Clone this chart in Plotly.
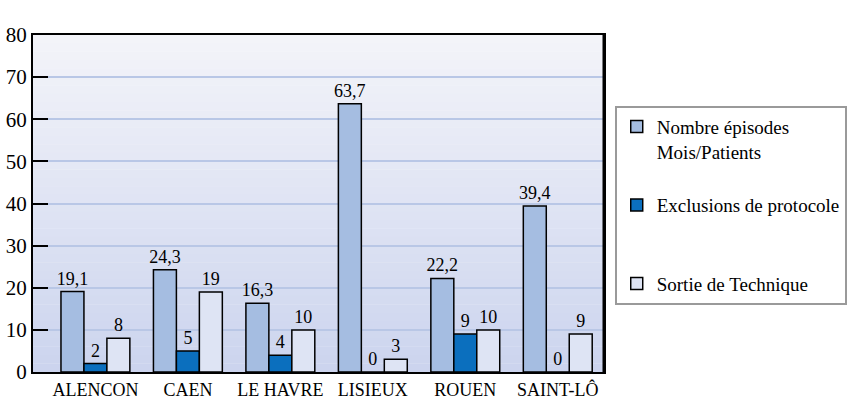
import plotly.graph_objects as go

categories = ["ALENCON", "CAEN", "LE HAVRE", "LISIEUX", "ROUEN", "SAINT-LÔ"]
episodes = [19.1, 24.3, 16.3, 63.7, 22.2, 39.4]
exclusions = [2, 5, 4, 0, 9, 0]
sorties = [8, 19, 10, 3, 10, 9]
series_names = ["Nombre épisodes<br>Mois/Patients", "Exclusions de protocole<br>\u00a0", "Sortie de Technique"]
colors = ["#a5bde1", "#0b6fbe", "#dee4f4"]
y_ticks = [0, 10, 20, 30, 40, 50, 60, 70, 80]

FONT = "Liberation Serif"

def fmt(v):
    return ("%g" % v).replace(".", ",")

fig = go.Figure()
for i, (name, vals) in enumerate(zip(series_names, [episodes, exclusions, sorties])):
    fig.add_trace(go.Bar(
        x=categories, y=vals, name=name,
        marker=dict(color=colors[i], line=dict(color="black", width=1.5)),
        text=[fmt(v) for v in vals], textposition="outside",
        textfont=dict(family=FONT, size=18, color="black"),
        constraintext="none",
        cliponaxis=False, legendgroup=str(i),
    ))

# gradient background
n = 40
top = (244, 244, 249)
bot = (203, 212, 238)
for k in range(n):
    t = (k + 0.5) / n
    c = tuple(int(round(top[j] + (bot[j] - top[j]) * t)) for j in range(3))
    fig.add_shape(type="rect", xref="x domain", yref="y domain",
                  x0=0, x1=1, y0=1 - (k + 1) / n, y1=1 - k / n + 0.001,
                  fillcolor="rgb(%d,%d,%d)" % c, line=dict(width=0), layer="below")

# heavier right border
fig.add_shape(type="line", xref="x domain", yref="y domain", x0=1, x1=1, y0=0, y1=1,
              line=dict(color="black", width=3))

fig.update_layout(
    width=858, height=419,
    margin=dict(l=33, r=253, t=35, b=47),
    paper_bgcolor="white", plot_bgcolor="rgba(0,0,0,0)",
    barmode="group", bargap=0.255, bargroupgap=0,
    font=dict(family=FONT, color="black"),
    showlegend=True,
    uniformtext=dict(minsize=18, mode="show"),
    legend=dict(x=1.017, xanchor="left", y=0.79, yanchor="top",
                bordercolor="#9a9a9a", borderwidth=2, bgcolor="white",
                font=dict(family=FONT, size=19, color="black"),
                tracegroupgap=26, itemwidth=30, valign="top"),
)
fig.update_xaxes(range=[-0.675, 5.5], showline=True, linecolor="black", linewidth=2,
                 mirror=True, ticks="", tickfont=dict(family=FONT, size=18, color="black"),
                 showgrid=False, automargin=False)
fig.update_yaxes(range=[0, 80], tickvals=y_ticks, showline=True, linecolor="black",
                 linewidth=2, mirror=True, ticks="inside", ticklen=15, tickwidth=2,
                 tickcolor="black", showgrid=True, gridcolor="#b9c7e6", gridwidth=2,
                 zeroline=False, automargin=False,
                 tickfont=dict(family=FONT, size=21, color="black"))

fig.write_html("out.html", config={"displayModeBar": False},
               post_script="document.body.style.margin='0';")
